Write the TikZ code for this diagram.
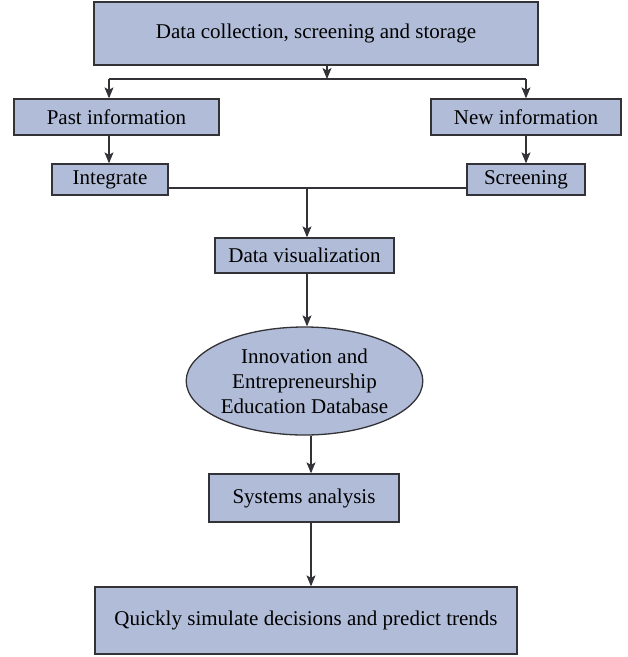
\documentclass[tikz,border=0pt]{standalone}
\usepackage{fontspec}
\setmainfont{Liberation Serif}
\usepackage{tikz}
\usetikzlibrary{arrows.meta, positioning, calc, shapes.geometric}
\definecolor{boxfill}{RGB}{177,189,216}
\definecolor{boxline}{RGB}{50,50,55}
\tikzset{
>={Stealth[length=11pt,width=9pt,inset=2.5pt]},
boxline,
text=black,
box/.style={%
    rectangle,
    inner sep=0pt,
    fill=boxfill,
    draw=boxline,
    line width=1.3pt,
    % Font
    font=\fontsize{21}{25}\selectfont
},
dbase/.style={%
    box, ellipse, align=center
},
link/.style={line width=1.1pt, draw=boxline},
}

\begin{document}
\begin{tikzpicture}[x=1pt, y=-1pt]
	\useasboundingbox (0,0) rectangle (628,657);
	\node[box, minimum width=444, minimum height=63] at (316,33.5) (collect) {Data collection, screening and storage};
	\node[box, minimum width=205, minimum height=36] at (116.5,117) (past) {Past information};
	\node[box, minimum width=190, minimum height=36] at (526,117) (new) {New information};
	\node[box, minimum width=116, minimum height=31] at (110,179.5) (integ) {Integrate};
	\node[box, minimum width=118, minimum height=31] at (526,179.5) (screen) {Screening};
	\node[box, minimum width=179, minimum height=35] at (304.5,255.5) (vis) {Data visualization};
	\node[dbase, minimum width=219, minimum height=108] at (304.5,381) (db) {Innovation and\\Entrepreneurship\\Education Database};
	\node[box, minimum width=190, minimum height=48] at (304,498) (sys) {Systems analysis};
	\node[box, minimum width=422, minimum height=67] at (306,620.5) (predict) {Quickly simulate decisions and predict trends};

	\coordinate (split) at (327,79);
	\coordinate (splitL) at (109,79);
	\coordinate (splitR) at (526,79);
	\coordinate (join) at (307,188);
	\coordinate (axis) at (311,0);

	\draw[link, ->] (split |- collect.south) -- (split);
	\draw[link] (splitL) -- (splitR);
	\draw[link, ->] (splitL) -- (splitL |- past.north);
	\draw[link, ->] (splitR) -- (splitR |- new.north);

	\draw[link, ->] (past.south -| splitL) -- (integ.north -| splitL);
	\draw[link, ->] (new.south) -- (screen.north);

	\draw[link] (integ.east |- join) -- (screen.west |- join);
	\draw[link, ->] (join) -- (join |- vis.north);
	\draw[link, ->] (vis.south -| join) -- (db.north -| join);
	\draw[link, ->] (db.south -| axis) -- (sys.north -| axis);
	\draw[link, ->] (sys.south -| axis) -- (predict.north -| axis);
\end{tikzpicture}
\end{document}
